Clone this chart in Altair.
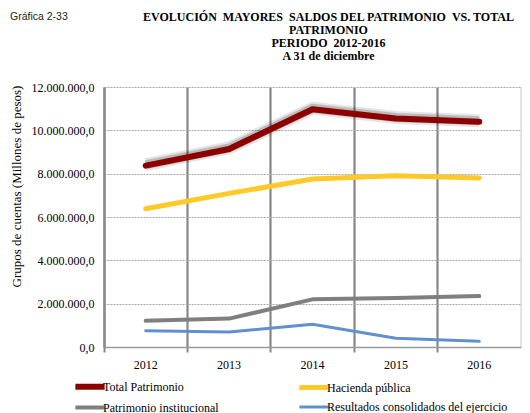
import altair as alt
import pandas as pd

years = ["2012", "2013", "2014", "2015", "2016"]
series_names = ["Total Patrimonio", "Hacienda pública", "Patrimonio institucional",
                "Resultados consolidados del ejercicio"]
total_patrimonio = [8370000, 9140000, 10970000, 10550000, 10400000]
hacienda_publica = [6380000, 7090000, 7750000, 7900000, 7800000]
patrimonio_institucional = [1210000, 1310000, 2200000, 2260000, 2350000]
resultados_consolidados = [750000, 690000, 1050000, 400000, 260000]
y_ticks = [0, 2000000, 4000000, 6000000, 8000000, 10000000, 12000000]

colors = ["#8e0000", "#ffc92a", "#7f7f7f", "#6190cf"]
widths = [6, 3, 3, 3]

title_lines = ["EVOLUCIÓN \u00a0MAYORES \u00a0SALDOS DEL PATRIMONIO \u00a0VS. TOTAL", "PATRIMONIO",
               "PERIODO \u00a02012-2016", "A 31 de diciembre"]
chart_label = "Gráfica 2-33"
y_title = "Grupos de cuentas (Millones de pesos)"

rows = []
for name, vals in zip(series_names,
                      [total_patrimonio, hacienda_publica, patrimonio_institucional, resultados_consolidados]):
    for yr, v in zip(years, vals):
        rows.append({"year": yr, "series": name, "value": v})
df = pd.DataFrame(rows)
df_total = df[df.series == series_names[0]]

W, H = 417, 260
SERIF = "Liberation Serif"

xscale = alt.Scale(type="band", domain=years, paddingInner=0, paddingOuter=0)
yscale = alt.Scale(domain=[0, 12000000])

x_enc = alt.X(
    "year:N", scale=xscale, bandPosition=0.5,
    axis=alt.Axis(bandPosition=0, grid=True, gridColor="#878787", gridWidth=2.2,
                  ticks=True, tickColor="#878787", tickWidth=2, tickSize=5,
                  domainColor="#9a9a9a", domainWidth=1.5,
                  labelFont=SERIF, labelFontSize=12, labelColor="#000000",
                  labelPadding=7, labelAngle=0, title=None),
)
y_enc = alt.Y(
    "value:Q", scale=yscale,
    axis=alt.Axis(values=y_ticks, grid=True, gridDash=[2, 1], gridColor="#a8a8a8", gridWidth=1,
                  domainColor="#8a8a8a", domainWidth=2.2, ticks=False,
                  labelExpr="join(split(format(datum.value, ',d'), ','), '.') + ',0'",
                  labelFont=SERIF, labelFontSize=12, labelColor="#000000", labelPadding=10,
                  title=y_title, titleFont=SERIF, titleFontSize=13, titleFontWeight="normal",
                  titleColor="#000000", titleAngle=-90, titleX=-84, titleY=99,
                  titleBaseline="alphabetic", titleAlign="center"),
)

border = alt.Chart(pd.DataFrame({"a": [0]})).mark_rule(color="#c8c8c8", strokeWidth=1).encode(
    x=alt.value(W), y=alt.value(0), y2=alt.value(H))

glow1 = alt.Chart(df_total).mark_line(color="#000000", opacity=0.10, strokeWidth=13,
                                      yOffset=-1, strokeJoin="round").encode(x=x_enc, y=y_enc)
glow2 = alt.Chart(df_total).mark_line(color="#000000", opacity=0.18, strokeWidth=9,
                                      yOffset=-1, strokeJoin="round").encode(x=x_enc, y=y_enc)

lines = alt.Chart(df).mark_line(strokeJoin="round", strokeCap="round").encode(
    x=x_enc, y=y_enc,
    color=alt.Color("series:N", scale=alt.Scale(domain=series_names, range=colors),
                    legend=alt.Legend(title=None, orient="none", direction="horizontal",
                                      legendX=-23.5, legendY=290,
                                      columns=2, columnPadding=69, rowPadding=0,
                                      symbolType="M-2.25,0H2.25", symbolSize=169,
                                      labelOffset=3.5, labelFont=SERIF, labelFontSize=12,
                                      labelColor="#000000", labelLimit=400, padding=0)),
    strokeWidth=alt.StrokeWidth("series:N", scale=alt.Scale(domain=series_names, range=widths),
                                legend=None),
    order=alt.Order("year:N"),
)

label = alt.Chart(pd.DataFrame({"t": [chart_label]})).mark_text(
    align="left", baseline="middle", font="Liberation Sans", fontSize=10.5, color="#222222"
).encode(x=alt.value(-94), y=alt.value(-70), text="t:N")

chart = alt.layer(border, glow1, glow2, lines, label).properties(
    width=W, height=H,
    title=alt.Title(title_lines, anchor="middle", frame="group", dx=16, offset=-51,
                    font=SERIF, fontSize=12, fontWeight="bold", color="#000000", lineHeight=13),
    autosize=alt.AutoSizeParams(type="none"),
    padding={"left": 96, "top": 79, "right": 1, "bottom": 66},
).configure_view(stroke=None)

chart.save("out.html", embed_options={"renderer": "svg", "actions": False})
